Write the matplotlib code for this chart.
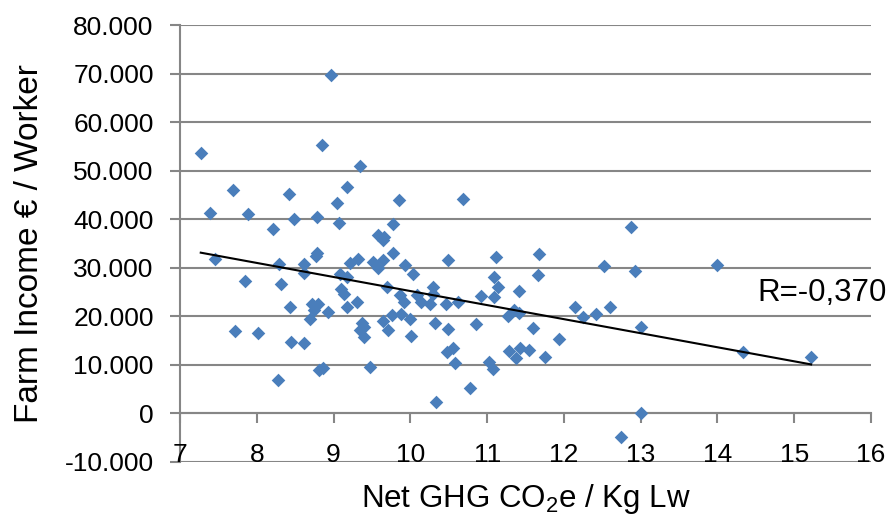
import matplotlib
matplotlib.use('Agg')
import matplotlib.pyplot as plt
import numpy as np

plt.rcParams['font.family'] = ['Liberation Sans', 'DejaVu Sans']
plt.rcParams['mathtext.fontset'] = 'custom'
plt.rcParams['mathtext.rm'] = 'Liberation Sans'

# Net GHG CO2e per kg live weight, and farm income per worker (EUR)
ghg = [7.27, 7.39, 7.46, 7.69, 7.72, 7.84, 7.89, 8.02, 8.21, 8.28,
       8.29, 8.32, 8.42, 8.43, 8.45, 8.48, 8.61, 8.62, 8.62, 8.69,
       8.72, 8.75, 8.77, 8.79, 8.79, 8.80, 8.81, 8.85, 8.86, 8.93,
       8.96, 9.05, 9.07, 9.08, 9.10, 9.14, 9.17, 9.18, 9.18, 9.22,
       9.31, 9.32, 9.34, 9.35, 9.37, 9.39, 9.40, 9.47, 9.51, 9.58,
       9.58, 9.64, 9.66, 9.64, 9.65, 9.69, 9.71, 9.76, 9.77, 9.78,
       9.85, 9.87, 9.88, 9.92, 9.93, 10.00, 10.01, 10.03, 10.08, 10.14,
       10.26, 10.29, 10.29, 10.32, 10.33, 10.46, 10.49, 10.49, 10.48, 10.56,
       10.58, 10.62, 10.68, 10.78, 10.86, 10.92, 11.03, 11.08, 11.09, 11.09,
       11.12, 11.14, 11.27, 11.29, 11.35, 11.38, 11.41, 11.42, 11.43, 11.55,
       11.60, 11.66, 11.68, 11.75, 11.93, 12.14, 12.25, 12.42, 12.52, 12.60,
       12.74, 12.88, 12.92, 13.00, 13.00, 14.00, 14.33, 15.22]
income = [53600, 41200, 31700, 46000, 17000, 27300, 41100, 16500, 38000, 6900,
          30700, 26700, 45200, 21800, 14600, 40000, 28900, 30800, 14400, 19500,
          22500, 21300, 32500, 33000, 40500, 22500, 8900, 55200, 9300, 20900,
          69700, 43300, 39200, 28600, 25500, 24600, 46700, 28000, 21800, 30900,
          22900, 31800, 17100, 50900, 18500, 17700, 15800, 9600, 31200, 36800,
          29900, 35700, 36300, 31500, 19000, 26100, 17100, 20300, 39000, 33000,
          44000, 24400, 20500, 22900, 30600, 19500, 15900, 28700, 24300, 23000,
          22500, 26100, 24500, 18600, 2400, 22500, 31500, 17300, 12600, 13400,
          10300, 23000, 44200, 5200, 18300, 24200, 10600, 9100, 28100, 23900,
          32100, 26000, 20100, 12800, 21300, 11300, 20600, 25100, 13400, 13000,
          17500, 28400, 32900, 11500, 15200, 21800, 19800, 20400, 30400, 21800,
          -5000, 38300, 29400, 17800, 0, 30600, 12700, 11500]

x_ticks = [7, 8, 9, 10, 11, 12, 13, 14, 15, 16]
y_ticks = [-10000, 0, 10000, 20000, 30000, 40000, 50000, 60000, 70000, 80000]
r_label = 'R=-0,370'

grey = '#868686'

fig = plt.figure(figsize=(8.93, 5.22), dpi=100)
ax = fig.add_axes([0.2016, 0.1155, 0.7738, 0.8365])

ax.scatter(ghg, income, marker='D', s=48, color='#4A7EBB', zorder=3, linewidths=0)

# linear trend line over the data range
slope, inter = np.polyfit(ghg, income, 1)
xs = np.array([min(ghg), max(ghg)])
ax.plot(xs, slope * xs + inter, color='black', lw=1.5, zorder=4)

ax.set_xlim(7, 16)
ax.set_ylim(-10000, 80000)
ax.set_yticks(y_ticks)
ax.set_yticklabels(['{:,}'.format(v).replace(',', '.') for v in y_ticks], fontsize=19)
ax.set_xticks(x_ticks)
ax.set_xticklabels([])
for v in y_ticks:
    ax.axhline(v, color=grey, lw=1.5, zorder=1)

for s in ['top', 'right']:
    ax.spines[s].set_visible(False)
ax.spines['bottom'].set_position(('data', 0))
ax.spines['bottom'].set_color(grey)
ax.spines['bottom'].set_linewidth(1.5)
ax.spines['left'].set_color(grey)
ax.spines['left'].set_linewidth(1.5)
ax.tick_params(axis='both', colors=grey, width=1.5, length=7, direction='out')
ax.tick_params(axis='y', labelcolor='black', pad=12)

# x labels sit low, on the bottom gridline
for v in x_ticks:
    ax.text(v, -10000, str(v), ha='center', va='baseline', fontsize=19)

ax.set_ylabel('Farm Income € / Worker', fontsize=24, labelpad=14)
fig.text(0.589, 0.044, r'Net GHG CO$_\mathregular{2}$e / Kg Lw', ha='center', va='center', fontsize=22.5)
ax.text(16.2, 24800, r_label, ha='right', va='center', fontsize=22.5, clip_on=False)

fig.savefig('out.png', dpi=100)
